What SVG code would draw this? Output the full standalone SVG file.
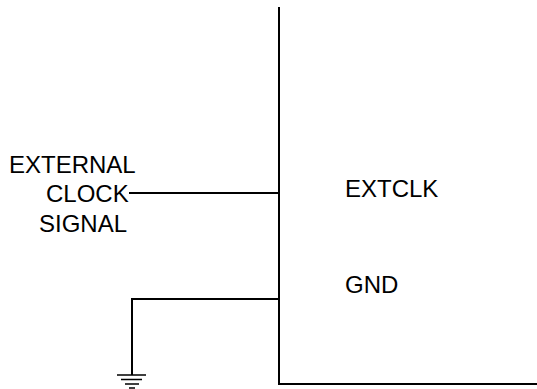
<svg xmlns="http://www.w3.org/2000/svg" width="537" height="389" viewBox="0 0 537 389">
<style>
.l{fill:none;stroke:#000;stroke-width:2}
.g{fill:none;stroke:#000;stroke-width:1.6}
text{font-family:"Liberation Sans",Arial,sans-serif;font-size:24px;fill:#000}
</style>
<g id="connectors">
<path class="l" d="M129 193H279"/>
<path class="l" d="M279 299H132V375"/>
<path class="g" d="M117 375H146M121 379.500H142M125 384H139M129 388H135"/>
</g>
<g id="chip"><path class="l" d="M279 7V384H537"/></g>
<g id="label-external"><text x="9" y="173">EXTERNAL</text><text x="46" y="202">CLOCK</text><text x="39" y="232">SIGNAL</text></g>
<g id="label-extclk"><text x="345" y="197">EXTCLK</text></g>
<g id="label-gnd"><text x="345" y="293">GND</text></g>
</svg>
